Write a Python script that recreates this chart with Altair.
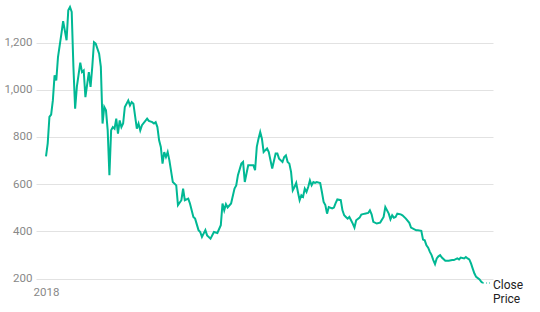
import altair as alt
import pandas as pd

# day offsets from 2018-01-01 and close prices
days = [0, 1, 2, 3, 4, 5, 6, 7, 9, 10, 12, 13, 14, 15, 16, 17, 18, 20, 21, 22, 23, 25, 26, 27, 28, 29,
        31, 32, 33, 34, 35, 36, 37, 38, 39, 40, 41, 42, 43, 44, 45, 46, 48, 49, 50, 51, 53, 54, 55, 56,
        59, 60, 62, 63, 64, 65, 66, 67, 68, 69, 70, 71, 72, 74, 76, 77, 79, 80, 81, 83, 84, 86, 87, 89,
        90, 91, 93, 94, 96, 98, 100, 102, 103, 104, 105, 106, 108, 110, 111, 112, 114, 115, 116, 117,
        118, 120, 121, 122, 123, 124, 125, 126, 127, 128, 129, 130, 131, 132, 134, 135, 136, 138, 139,
        140, 141, 142, 143, 144, 145, 146, 147, 148, 149, 150, 151, 152, 153, 154, 155, 156, 157, 158,
        160, 161, 162, 163, 164, 165, 167, 168, 169, 170, 172, 173, 174, 175, 176, 177, 178, 179, 180,
        181, 183, 184, 186, 188, 189, 190, 191, 193, 195, 197, 198, 200, 201, 202, 203, 204, 205, 207,
        208, 210, 212, 213, 215, 216, 217, 219, 220, 221, 222, 223, 224, 225, 226, 227, 228, 229, 230,
        231, 233, 235, 237, 238, 240, 241, 242, 244, 245, 246, 247, 248, 249, 250, 251, 253, 254, 255]
close = [718, 773, 885, 895, 955, 1061, 1040, 1139, 1238, 1291, 1210, 1337, 1351, 1330, 1097, 920, 1012,
         1115, 1075, 1082, 969, 1075, 1012, 1097, 1202, 1196, 1153, 1097, 857, 927, 913, 828, 638, 828,
         842, 835, 878, 814, 870, 842, 857, 927, 955, 934, 948, 941, 835, 857, 828, 850, 878, 868, 863,
         857, 863, 842, 786, 758, 687, 736, 715, 736, 701, 609, 595, 511, 532, 581, 532, 539, 518, 461,
         454, 405, 397, 376, 405, 383, 369, 397, 393, 426, 518, 489, 515, 501, 518, 581, 595, 638, 687,
         694, 609, 645, 680, 680, 680, 659, 758, 793, 821, 793, 736, 744, 751, 736, 701, 666, 730, 730,
         708, 694, 715, 722, 694, 687, 652, 574, 588, 605, 567, 532, 553, 546, 581, 567, 588, 616, 595,
         609, 605, 609, 605, 567, 525, 511, 475, 503, 497, 501, 520, 535, 532, 489, 468, 461, 454, 461,
         447, 433, 416, 447, 458, 471, 475, 478, 489, 472, 440, 433, 437, 461, 503, 475, 451, 468, 458,
         461, 475, 472, 468, 454, 436, 416, 408, 405, 405, 402, 365, 362, 341, 331, 313, 299, 278, 261,
         285, 294, 299, 289, 275, 275, 278, 278, 285, 281, 289, 285, 291, 285, 281, 264, 242, 221, 207,
         196, 186, 181]
y_ticks = [200, 400, 600, 800, 1000, 1200]
series_label = ["Close", "Price"]

TEAL = "#00b894"
start = pd.Timestamp("2018-01-01")
df = pd.DataFrame({"date": [start + pd.Timedelta(days=d) for d in days], "close": close})
last = df.iloc[[-1]]

W, H = 457, 276

x = alt.X("date:T", title=None,
          scale=alt.Scale(padding=10),
          axis=alt.Axis(tickCount="year", format="%Y", grid=False, domain=False, ticks=False,
                        labelFlush=False, labelColor="#888888", labelFontSize=11.5, labelPadding=3))
y = alt.Y("close:Q", title=None,
          scale=alt.Scale(zero=False, nice=False),
          axis=alt.Axis(values=y_ticks, grid=True, gridColor="#e2e2e2", domain=False, ticks=False,
                        labelColor="#888888", labelFontSize=11.5, labelPadding=4))

line = alt.Chart(df).mark_line(color=TEAL, strokeWidth=2).encode(x=x, y=y)
conn = alt.Chart(last).mark_rule(color=TEAL, strokeDash=[1, 2], strokeWidth=1.5, opacity=0.6).encode(
    x="date:T", x2=alt.value(W - 3), y="close:Q")
label = alt.Chart(last).mark_text(text=series_label, align="left", baseline="alphabetic", dy=6,
                                  fontSize=12, lineHeight=14, color="#222222").encode(
    x=alt.value(W), y="close:Q")

chart = alt.layer(line, conn, label).properties(
    width=W, height=H,
    autosize=alt.AutoSizeParams(type="none"),
    padding={"left": 36, "top": 7, "right": 47, "bottom": 29},
).configure(font="Roboto").configure_view(stroke=None)

chart.save("out.html", embed_options={"renderer": "svg", "actions": False})
